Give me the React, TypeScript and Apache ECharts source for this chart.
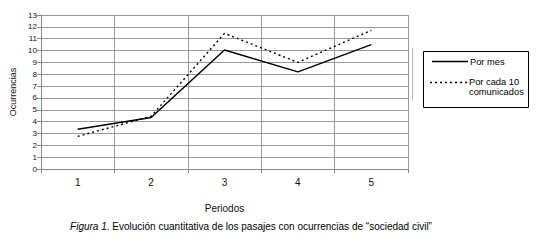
import React, { useEffect, useRef } from "react";
import * as echarts from "echarts";

const categories = ["1", "2", "3", "4", "5"];
const porMes = [3.35, 4.35, 10.05, 8.2, 10.5];
const porCada10 = [2.75, 4.45, 11.45, 9.0, 11.7];
const seriesNames = ["Por mes", "Por cada 10\ncomunicados"];
const yTicks = { min: 0, max: 13, interval: 1 };

export default function App() {
  const ref = useRef<HTMLDivElement>(null);
  useEffect(() => {
    document.body.style.margin = "0";
    const chart = echarts.init(ref.current!, null, { renderer: "svg" });
    const font = "Arial, 'Liberation Sans', sans-serif";
    chart.setOption({
      animation: false,
      backgroundColor: "#fff",
      textStyle: { fontFamily: font },
      grid: { left: 38, top: 15, width: 370, height: 154, containLabel: false },
      xAxis: {
        type: "category",
        data: categories,
        boundaryGap: true,
        name: "Periodos",
        nameLocation: "middle",
        nameGap: 34,
        nameTextStyle: { fontSize: 10, color: "#111", fontFamily: font },
        axisLine: { lineStyle: { color: "#888", width: 1 } },
        axisTick: { show: true, length: 4, lineStyle: { color: "#888" } },
        axisLabel: { fontSize: 10, color: "#111", margin: 8, fontFamily: font },
        splitLine: { show: true, lineStyle: { color: "#999", width: 1 } },
      },
      yAxis: {
        type: "value",
        min: yTicks.min,
        max: yTicks.max,
        interval: yTicks.interval,
        name: "Ocurrencias",
        nameLocation: "middle",
        nameGap: 24,
        nameRotate: 90,
        nameTextStyle: { fontSize: 9, color: "#111", fontFamily: font },
        axisLine: { show: true, lineStyle: { color: "#888", width: 1 } },
        axisTick: { show: true, length: 4, lineStyle: { color: "#888" } },
        axisLabel: { fontSize: 8, color: "#111", margin: 4, fontFamily: font },
        splitLine: { show: true, lineStyle: { color: "#999", width: 1 } },
      },
      series: [
        {
          name: seriesNames[0],
          type: "line",
          data: porMes,
          symbol: "none",
          lineStyle: { color: "#000", width: 1.5, type: "solid" },
        },
        {
          name: seriesNames[1],
          type: "line",
          data: porCada10,
          symbol: "none",
          lineStyle: { color: "#000", width: 1.4, type: [2, 3] },
        },
      ],
      graphic: [
        {
          type: "line",
          shape: { x1: 412.5, y1: 48, x2: 412.5, y2: 101 },
          style: { stroke: "#bbb", lineWidth: 1 },
        },
        {
          type: "rect",
          shape: { x: 423.5, y: 51.5, width: 105, height: 56 },
          style: { fill: "#fff", stroke: "#000", lineWidth: 1 },
        },
        {
          type: "line",
          shape: { x1: 432, y1: 61.5, x2: 468, y2: 61.5 },
          style: { stroke: "#000", lineWidth: 1.5 },
        },
        {
          type: "text",
          x: 470,
          y: 61.7,
          style: { text: seriesNames[0], fontSize: 9.3, fill: "#000", fontFamily: font, verticalAlign: "middle" },
        },
        {
          type: "line",
          shape: { x1: 430, y1: 82.5, x2: 467, y2: 82.5 },
          style: { stroke: "#000", lineWidth: 1.4, lineDash: [2, 3] },
        },
        {
          type: "text",
          x: 469,
          y: 77.3,
          style: { text: seriesNames[1], fontSize: 9.3, fill: "#000", fontFamily: font, lineHeight: 10 },
        },
        {
          type: "text",
          x: 251,
          y: 226,
          style: {
            text: "{i|Figura 1}. Evolución cuantitativa de los pasajes con ocurrencias de “sociedad civil”",
            align: "center",
            verticalAlign: "middle",
            fontSize: 10,
            fill: "#000",
            fontFamily: "'Liberation Sans Narrow', Arial, sans-serif",
            rich: {
              i: { fontStyle: "italic", fontSize: 10, fontFamily: "'Liberation Sans Narrow', Arial, sans-serif" },
            },
          },
        },
      ],
    });
    return () => chart.dispose();
  }, []);
  return <div ref={ref} style={{ width: 545, height: 245 }} />;
}
